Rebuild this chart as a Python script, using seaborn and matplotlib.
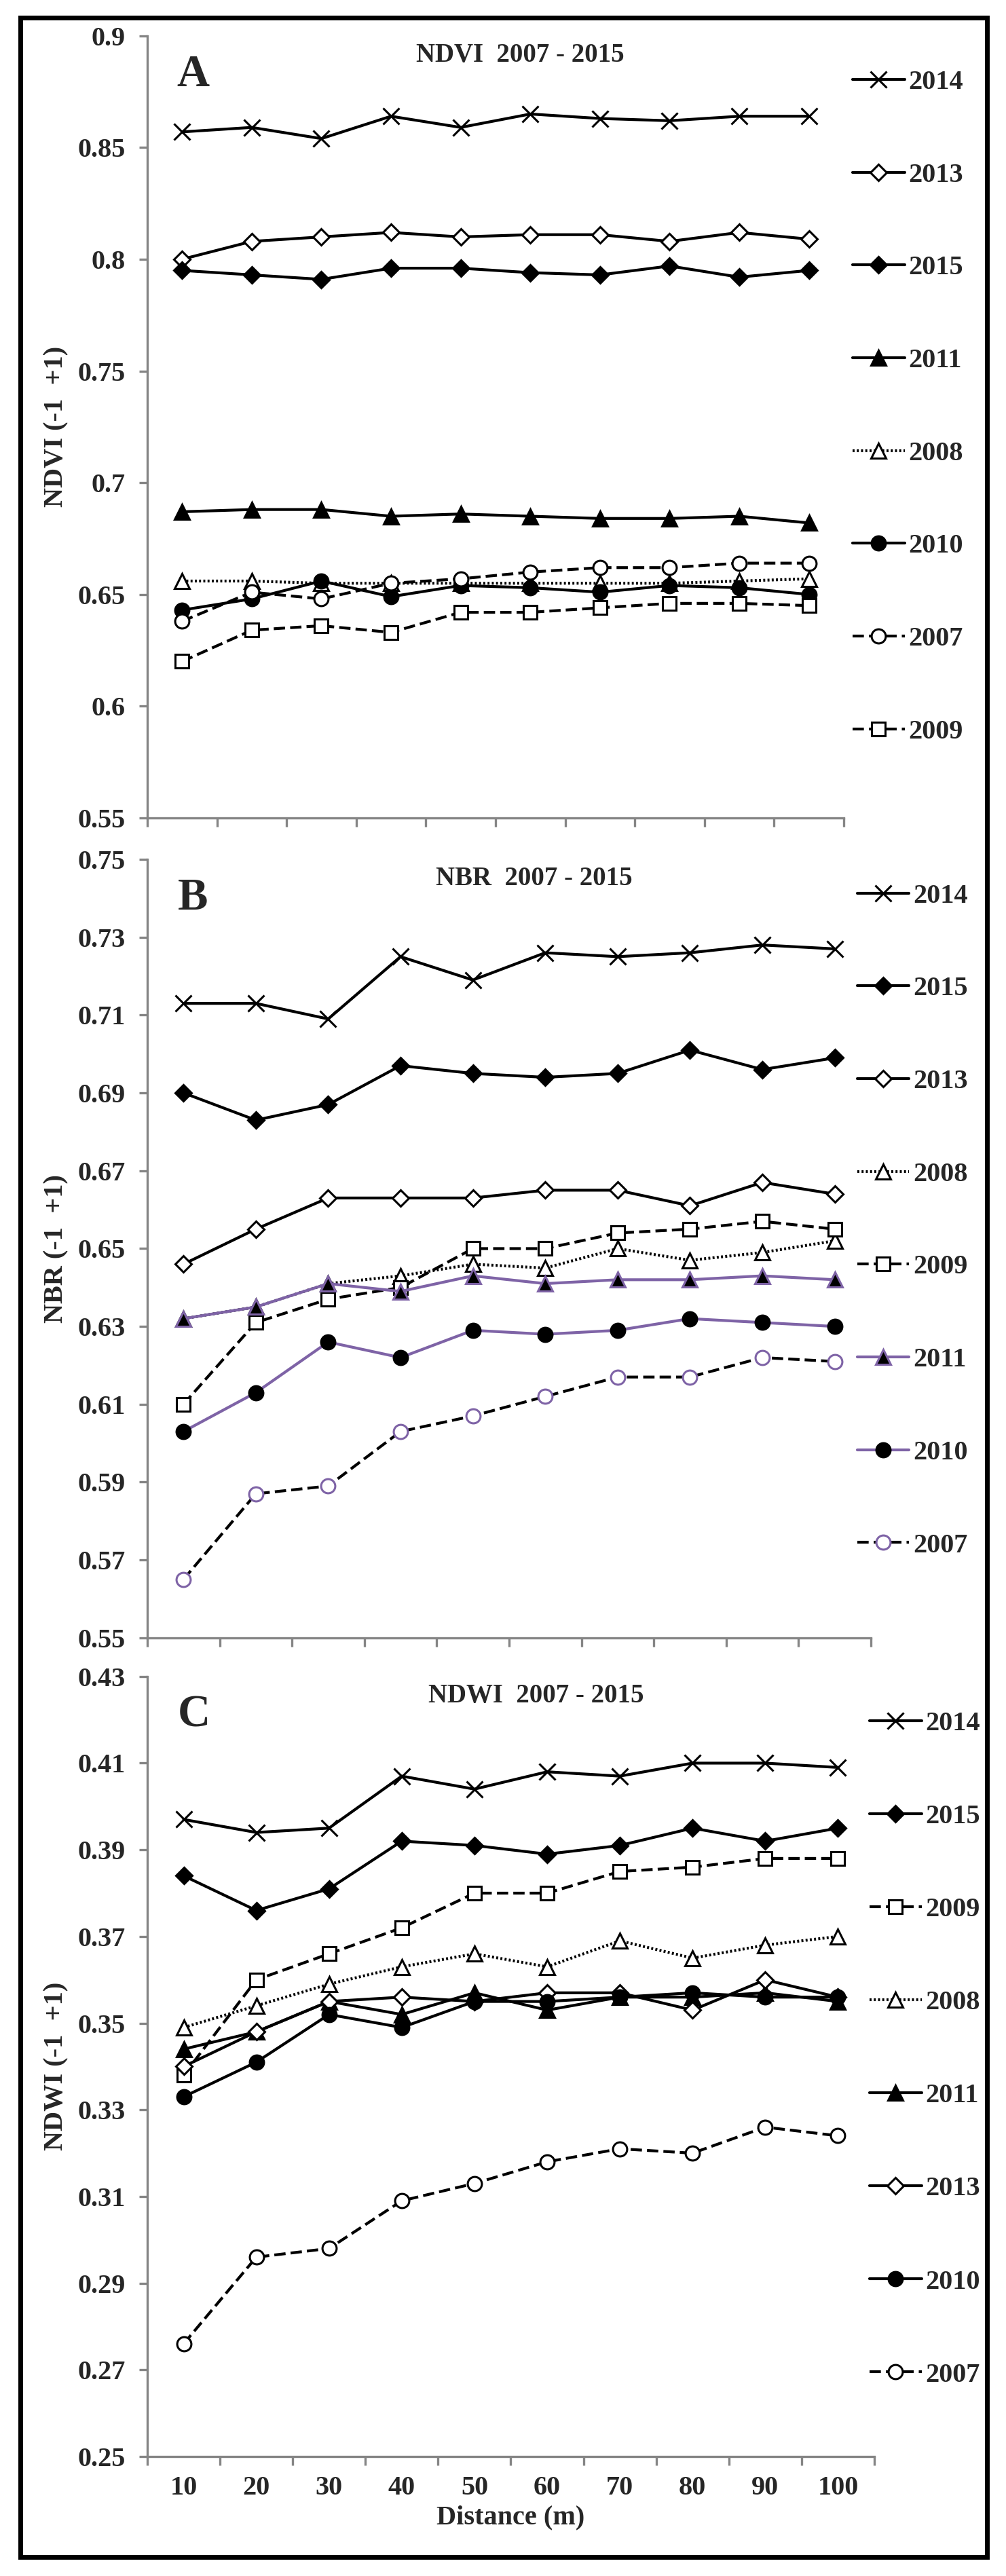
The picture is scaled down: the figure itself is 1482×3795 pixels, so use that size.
import numpy as np
import matplotlib.pyplot as plt
from matplotlib.patches import Rectangle
import seaborn as sns

# distance from the edge (m)
distance = [10, 20, 30, 40, 50, 60, 70, 80, 90, 100]

# NDVI (panel A)
ndvi_2014 = [0.857, 0.859, 0.854, 0.864, 0.859, 0.865, 0.863, 0.862, 0.864, 0.864]
ndvi_2013 = [0.800, 0.808, 0.810, 0.812, 0.810, 0.811, 0.811, 0.808, 0.812, 0.809]
ndvi_2015 = [0.795, 0.793, 0.791, 0.796, 0.796, 0.794, 0.793, 0.797, 0.792, 0.795]
ndvi_2011 = [0.687, 0.688, 0.688, 0.685, 0.686, 0.685, 0.684, 0.684, 0.685, 0.682]
ndvi_2008 = [0.656, 0.656, 0.655, 0.655, 0.655, 0.655, 0.655, 0.655, 0.656, 0.657]
ndvi_2010 = [0.643, 0.648, 0.656, 0.649, 0.654, 0.653, 0.651, 0.654, 0.653, 0.650]
ndvi_2007 = [0.638, 0.651, 0.648, 0.655, 0.657, 0.660, 0.662, 0.662, 0.664, 0.664]
ndvi_2009 = [0.620, 0.634, 0.636, 0.633, 0.642, 0.642, 0.644, 0.646, 0.646, 0.645]

# NBR (panel B)
nbr_2014 = [0.713, 0.713, 0.709, 0.725, 0.719, 0.726, 0.725, 0.726, 0.728, 0.727]
nbr_2015 = [0.690, 0.683, 0.687, 0.697, 0.695, 0.694, 0.695, 0.701, 0.696, 0.699]
nbr_2013 = [0.646, 0.655, 0.663, 0.663, 0.663, 0.665, 0.665, 0.661, 0.667, 0.664]
nbr_2008 = [0.632, 0.635, 0.641, 0.643, 0.646, 0.645, 0.650, 0.647, 0.649, 0.652]
nbr_2009 = [0.610, 0.631, 0.637, 0.640, 0.650, 0.650, 0.654, 0.655, 0.657, 0.655]
nbr_2011 = [0.632, 0.635, 0.641, 0.639, 0.643, 0.641, 0.642, 0.642, 0.643, 0.642]
nbr_2010 = [0.603, 0.613, 0.626, 0.622, 0.629, 0.628, 0.629, 0.632, 0.631, 0.630]
nbr_2007 = [0.565, 0.587, 0.589, 0.603, 0.607, 0.612, 0.617, 0.617, 0.622, 0.621]

# NDWI (panel C)
ndwi_2014 = [0.397, 0.394, 0.395, 0.407, 0.404, 0.408, 0.407, 0.410, 0.410, 0.409]
ndwi_2015 = [0.384, 0.376, 0.381, 0.392, 0.391, 0.389, 0.391, 0.395, 0.392, 0.395]
ndwi_2009 = [0.338, 0.360, 0.366, 0.372, 0.380, 0.380, 0.385, 0.386, 0.388, 0.388]
ndwi_2008 = [0.349, 0.354, 0.359, 0.363, 0.366, 0.363, 0.369, 0.365, 0.368, 0.370]
ndwi_2011 = [0.344, 0.348, 0.355, 0.352, 0.357, 0.353, 0.356, 0.356, 0.357, 0.355]
ndwi_2013 = [0.340, 0.348, 0.355, 0.356, 0.355, 0.357, 0.357, 0.353, 0.360, 0.356]
ndwi_2010 = [0.333, 0.341, 0.352, 0.349, 0.355, 0.355, 0.356, 0.357, 0.356, 0.356]
ndwi_2007 = [0.276, 0.296, 0.298, 0.309, 0.313, 0.318, 0.321, 0.320, 0.326, 0.324]

sns.set_style("white")
plt.rcParams['font.family'] = ['Liberation Serif', 'DejaVu Serif']
plt.rcParams['font.weight'] = 'bold'

PURPLE = '#7e63a6'
GREY = '#858585'
DASH = (0, (4.0, 1.8))
DOT = (0, (0.7, 0.8))

# marker / line style of each year (same in all panels)
styles = {
    '2014': dict(marker='x', mfc='black', ls='-', ms=17),
    '2013': dict(marker='D', mfc='white', ls='-', ms=12),
    '2015': dict(marker='D', mfc='black', ls='-', ms=12),
    '2011': dict(marker='^', mfc='black', ls='-', ms=16),
    '2008': dict(marker='^', mfc='white', ls=DOT, ms=16),
    '2010': dict(marker='o', mfc='black', ls='-', ms=15),
    '2007': dict(marker='o', mfc='white', ls=DASH, ms=15),
    '2009': dict(marker='s', mfc='white', ls=DASH, ms=14),
}

panels = [
    dict(pos=[0.1464, 0.6825, 0.6923, 0.3036], letter='A',
         title='NDVI  2007 - 2015', ylabel='NDVI (-1  +1)',
         ylim=(0.55, 0.9), ystep=0.05,
         series=[('2014', ndvi_2014), ('2013', ndvi_2013), ('2015', ndvi_2015),
                 ('2011', ndvi_2011), ('2008', ndvi_2008), ('2010', ndvi_2010),
                 ('2007', ndvi_2007), ('2009', ndvi_2009)],
         line_col={}, edge_col={}, leg=(1.0127, 0.9566), lsp=2.47),
    dict(pos=[0.1464, 0.3642, 0.7193, 0.3022], letter='B',
         title='NBR  2007 - 2015', ylabel='NBR (-1  +1)',
         ylim=(0.55, 0.75), ystep=0.02,
         series=[('2014', nbr_2014), ('2015', nbr_2015), ('2013', nbr_2013),
                 ('2008', nbr_2008), ('2009', nbr_2009), ('2011', nbr_2011),
                 ('2010', nbr_2010), ('2007', nbr_2007)],
         line_col={'2011': PURPLE, '2010': PURPLE},
         edge_col={'2011': PURPLE, '2007': PURPLE},
         leg=(0.981, 0.969), lsp=2.47),
    dict(pos=[0.1464, 0.0464, 0.7227, 0.3028], letter='C',
         title='NDWI  2007 - 2015', ylabel='NDWI (-1  +1)',
         ylim=(0.25, 0.43), ystep=0.02,
         series=[('2014', ndwi_2014), ('2015', ndwi_2015), ('2009', ndwi_2009),
                 ('2008', ndwi_2008), ('2011', ndwi_2011), ('2013', ndwi_2013),
                 ('2010', ndwi_2010), ('2007', ndwi_2007)],
         line_col={}, edge_col={}, leg=(0.9935, 0.9556), lsp=2.48),
]

fig = plt.figure(figsize=(14.82, 37.95), dpi=100)

for i, p in enumerate(panels):
    ax = fig.add_axes(p['pos'])
    for year, vals in p['series']:
        st = styles[year]
        sns.lineplot(x=distance, y=vals, ax=ax, sort=False, errorbar=None,
                     legend=False, label=year,
                     color=p['line_col'].get(year, 'black'), linewidth=3.0,
                     linestyle=st['ls'], marker=st['marker'],
                     markersize=st['ms'], markerfacecolor=st['mfc'],
                     markeredgecolor=p['edge_col'].get(year, 'black'),
                     markeredgewidth=2.2)

    lo, hi = p['ylim']
    ax.set_ylim(lo, hi)
    yt = np.round(np.arange(lo, hi + 1e-9, p['ystep']), 2)
    ax.set_yticks(yt)
    ax.set_yticklabels([f"{v:g}" for v in yt])
    ax.set_xlim(5, 105)
    ax.set_xticks(np.arange(5, 106, 10))
    ax.set_xticklabels([])
    ax.set_xticks(distance, minor=True)
    if i == 2:
        ax.set_xticklabels([str(d) for d in distance], minor=True)
        ax.set_xlabel('Distance (m)', fontsize=29, fontweight='bold')
        ax.xaxis.set_label_coords(0.5, -0.062)
    else:
        ax.set_xticklabels([], minor=True)
        ax.set_xlabel('')

    for s in ['top', 'right']:
        ax.spines[s].set_visible(False)
    for s in ['left', 'bottom']:
        ax.spines[s].set_color(GREY)
        ax.spines[s].set_linewidth(2.4)
    ax.tick_params(axis='both', which='major', direction='out', length=9,
                   width=2.4, color=GREY, labelsize=29, pad=14)
    ax.tick_params(axis='x', which='minor', length=0, labelsize=29, pad=20)
    ax.tick_params(axis='y', left=True)
    ax.tick_params(axis='x', bottom=True)

    ax.set_ylabel(p['ylabel'], fontsize=29, fontweight='bold')
    ax.yaxis.set_label_coords(-116 / (p['pos'][2] * 1482), 0.5)

    ax.text(0.535, 0.975, p['title'], transform=ax.transAxes, ha='center',
            va='center', fontsize=28, fontweight='bold')
    ax.text(0.042, 0.95, p['letter'], transform=ax.transAxes, ha='left',
            va='center', fontsize=48, fontweight='bold')

    handles, labels = ax.get_legend_handles_labels()
    ax.legend(handles, labels, loc='upper left', bbox_to_anchor=p['leg'],
              frameon=False, borderpad=0, borderaxespad=0, handlelength=1.9,
              handletextpad=0.15, labelspacing=p['lsp'],
              prop={'size': 29, 'weight': 'bold'})

# black border around the whole figure
fig.patches.append(Rectangle((29.5 / 1482, 1 - 3766.5 / 3795),
                             1424 / 1482, 3740 / 3795, transform=fig.transFigure,
                             fill=False, edgecolor='black', linewidth=5))

fig.savefig('out.png', dpi=100, facecolor='white')
